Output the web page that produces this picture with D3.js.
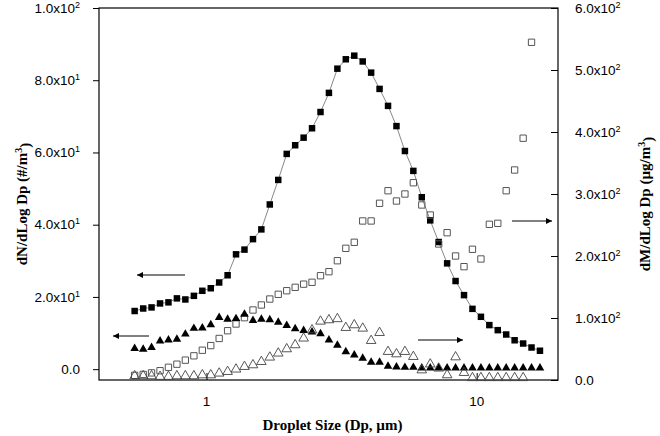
<!DOCTYPE html>
<html lang="en">
<head>
    <meta charset="UTF-8">
    <title>Droplet size distribution</title>
    <style>
        body, html {
            margin: 0;
            padding: 0;
            background: #fff;
        }
        .tick-label {
            font-family: "Liberation Sans", Arial, sans-serif;
            font-size: 13.5px;
            fill: #000;
        }
        .axis-title {
            font-family: "Liberation Serif", "Times New Roman", serif;
            font-weight: bold;
            font-size: 15px;
            fill: #000;
        }
    </style>
    <script src="https://d3js.org/d3.v7.min.js"></script>
</head>
<body>
    <div id="chart"></div>
    <script>
        // APS channel midpoints (um)
        const sizes = [0.542, 0.583, 0.626, 0.673, 0.723, 0.777, 0.835, 0.898, 0.965, 1.037,
            1.114, 1.197, 1.286, 1.382, 1.486, 1.596, 1.715, 1.843, 1.981, 2.129,
            2.288, 2.458, 2.642, 2.839, 3.051, 3.278, 3.523, 3.786, 4.068, 4.371,
            4.698, 5.048, 5.425, 5.829, 6.264, 6.732, 7.234, 7.774, 8.354, 8.977,
            9.647, 10.37, 11.14, 11.97, 12.86, 13.82, 14.86, 15.96, 17.15];

        // dN/dLogDp, left axis
        const numberSquares = [16.1, 16.8, 17.1, 18.2, 18.5, 19.6, 19.3, 20.3, 21.7, 22.4,
            24.0, 26.0, 31.8, 33.1, 36.0, 38.7, 45.6, 52.4, 59.6, 62.0,
            64.1, 66.7, 71.2, 76.5, 83.2, 85.8, 86.8, 85.2, 82.1, 77.6,
            72.9, 67.3, 60.4, 54.9, 47.6, 41.2, 35.2, 29.3, 24.4, 20.5,
            16.7, 14.5, 12.2, 10.8, 9.6, 8.0, 7.1, 6.0, 5.1];
        const numberTriangles = [5.7, 5.5, 6.0, 7.8, 8.1, 8.3, 9.7, 11.3, 11.4, 12.3,
            14.3, 13.8, 14.0, 15.2, 13.5, 13.8, 13.7, 13.0, 12.1, 11.2,
            10.7, 10.3, 9.8, 8.1, 6.6, 4.8, 3.9, 3.0, 1.9, 1.9,
            0.8, 0.6, 0.5, 0.5, 0.3, 0.3, 0.3, 0.3, 0.3, 0.3,
            0.3, 0.3, 0.3, 0.3, 0.3, 0.3, 0.3, 0.3, 0.3];

        // dM/dLogDp, right axis
        const massSquares = [7.5, 9.0, 11.5, 15.0, 20.5, 25.5, 32.0, 39.0, 48.0, 55.5,
            67.0, 79.5, 90.3, 100.5, 112.9, 121.0, 130.6, 138.2, 144.0, 149.5,
            154.6, 157.6, 168.2, 174.7, 192.4, 212.4, 222.1, 256.5, 256.5, 285.0,
            305.3, 288.7, 300.0, 318.2, 282.3, 266.1, 219.4, 237.6, 200.0, 182.8,
            210.8, 195.2, 251.1, 252.7, 305.3, 338.7, 390.0, 544.7];
        const massTriangles = [6.5, 6.5, 6.5, 5.5, 5.5, 6.5, 6.5, 6.5, 8.0, 8.0,
            10.8, 13.4, 17.3, 21.5, 24.2, 29.5, 36.6, 43.1, 50.0, 56.5,
            67.3, 80.6, 94.6, 96.8, 98.6, 84.4, 88.7, 83.3, 63.4, 76.3,
            45.7, 41.9, 45.7, 37.6, 16.0, 25.5, 18.9, 8.1, 37.0, 11.8,
            3.5, 3.5, 3.5, 3.5, 3.5, 3.5, 3.5];

        const leftMajor = [0, 20, 40, 60, 80, 100];
        const leftMinor = [10, 30, 50, 70, 90];
        const rightMajor = [0, 100, 200, 300, 400, 500, 600];
        const rightMinor = [50, 150, 250, 350, 450, 550];
        const xMajor = [1, 10];
        const xMinor = [0.5, 0.6, 0.7, 0.8, 0.9, 2, 3, 4, 5, 6, 7, 8, 9, 20];

        const width = 660, height = 436;
        const plot = { left: 99, right: 558, top: 8, bottom: 380 };

        const svg = d3.select("#chart").append("svg")
            .attr("width", width)
            .attr("height", height);

        const x = d3.scaleLog().domain([0.4, 20]).range([plot.left, plot.right]);
        const yL = d3.scaleLinear().domain([-3, 100]).range([plot.bottom, plot.top]);
        const yR = d3.scaleLinear().domain([0, 600]).range([plot.bottom, plot.top]);

        // label like 2.0x10^1
        function sciLabel(sel, v) {
            sel.text(null);
            if (v === 0) { sel.text("0.0"); return; }
            const e = Math.floor(Math.log10(v));
            const m = v / Math.pow(10, e);
            sel.append("tspan").text(m.toFixed(1) + "x10");
            sel.append("tspan").attr("dy", "-0.55em").style("font-size", "9px").text(e);
        }

        // frame
        svg.append("rect")
            .attr("x", plot.left).attr("y", plot.top)
            .attr("width", plot.right - plot.left)
            .attr("height", plot.bottom - plot.top)
            .attr("fill", "none").attr("stroke", "#000").attr("stroke-width", 1.2);

        // left axis (ticks outward)
        const gL = svg.append("g").attr("transform", `translate(${plot.left},0)`);
        gL.call(d3.axisLeft(yL).tickValues(leftMinor).tickSize(4).tickFormat(""));
        gL.call(d3.axisLeft(yL).tickValues(leftMajor).tickSize(6).tickFormat(""));
        gL.select(".domain").remove();
        leftMajor.forEach(v => {
            const t = svg.append("text").attr("class", "tick-label")
                .attr("x", plot.left - 19).attr("y", yL(v)).attr("dy", "0.35em")
                .attr("text-anchor", "end");
            sciLabel(t, v);
        });

        // right axis (ticks inward)
        const gR = svg.append("g").attr("transform", `translate(${plot.right},0)`);
        gR.call(d3.axisLeft(yR).tickValues(rightMinor).tickSize(5).tickFormat(""));
        gR.call(d3.axisLeft(yR).tickValues(rightMajor).tickSize(7).tickFormat(""));
        gR.select(".domain").remove();
        rightMajor.forEach(v => {
            const t = svg.append("text").attr("class", "tick-label")
                .attr("x", plot.right + 17).attr("y", yR(v)).attr("dy", "0.35em");
            sciLabel(t, v);
        });

        // bottom axis (ticks inward)
        const gB = svg.append("g").attr("transform", `translate(0,${plot.bottom})`);
        gB.call(d3.axisTop(x).tickValues(xMinor).tickSize(4).tickFormat(""));
        gB.call(d3.axisTop(x).tickValues(xMajor).tickSize(7).tickFormat(""));
        gB.select(".domain").remove();
        xMajor.forEach(v => {
            svg.append("text").attr("class", "tick-label")
                .attr("x", x(v)).attr("y", plot.bottom + 26)
                .attr("text-anchor", "middle").text(v);
        });
        svg.selectAll(".tick line").attr("stroke", "#000");

        // axis titles
        svg.append("text").attr("class", "axis-title")
            .attr("x", (plot.left + plot.right) / 2 + 4).attr("y", 430)
            .attr("text-anchor", "middle")
            .text("Droplet Size (Dp, \u00b5m)");

        const tl = svg.append("text").attr("class", "axis-title")
            .attr("transform", `translate(27,${(plot.top + plot.bottom) / 2 + 10}) rotate(-90)`)
            .attr("text-anchor", "middle");
        tl.append("tspan").text("dN/dLog Dp (#/m");
        tl.append("tspan").attr("dy", "-0.5em").style("font-size", "10px").text("3");
        tl.append("tspan").attr("dy", "0.5em").text(")");

        const tr = svg.append("text").attr("class", "axis-title")
            .attr("transform", `translate(650,${(plot.top + plot.bottom) / 2 + 10}) rotate(-90)`)
            .attr("text-anchor", "middle");
        tr.append("tspan").text("dM/dLog Dp (\u00b5g/m");
        tr.append("tspan").attr("dy", "-0.5em").style("font-size", "10px").text("3");
        tr.append("tspan").attr("dy", "0.5em").text(")");

        // series
        const sq = d3.symbol(d3.symbolSquare, 42);
        const tri = d3.symbol(d3.symbolTriangle, 32);
        const triOpen = d3.symbol(d3.symbolTriangle, 40);
        const sqOpen = d3.symbol(d3.symbolSquare, 40);

        const line = d3.line()
            .x((d, i) => x(sizes[i]))
            .y(d => yL(d));
        svg.append("path")
            .attr("d", line(numberSquares))
            .attr("fill", "none").attr("stroke", "#555").attr("stroke-width", 0.7);

        svg.append("g").selectAll("path").data(numberSquares).join("path")
            .attr("transform", (d, i) => `translate(${x(sizes[i])},${yL(d)})`)
            .attr("d", sq).attr("fill", "#000");

        svg.append("g").selectAll("path").data(massSquares).join("path")
            .attr("transform", (d, i) => `translate(${x(sizes[i])},${yR(d)})`)
            .attr("d", sqOpen).attr("fill", "none").attr("stroke", "#555").attr("stroke-width", 1);

        svg.append("g").selectAll("path").data(numberTriangles).join("path")
            .attr("transform", (d, i) => `translate(${x(sizes[i])},${yL(d)})`)
            .attr("d", tri).attr("fill", "#000");

        svg.append("g").selectAll("path").data(massTriangles).join("path")
            .attr("transform", (d, i) => `translate(${x(sizes[i])},${yR(d)})`)
            .attr("d", triOpen).attr("fill", "none").attr("stroke", "#444").attr("stroke-width", 0.9);

        // arrows pointing to the axis each series belongs to
        const arrows = [
            { from: [185, 275], to: [137, 275] },
            { from: [149, 336], to: [113, 336] },
            { from: [418, 340], to: [463, 340] },
            { from: [512, 221], to: [552, 221] }
        ];
        svg.append("defs").append("marker")
            .attr("id", "head").attr("viewBox", "0 0 10 10")
            .attr("refX", 10).attr("refY", 5)
            .attr("markerWidth", 9).attr("markerHeight", 6)
            .attr("markerUnits", "userSpaceOnUse")
            .attr("orient", "auto")
            .append("path").attr("d", "M0,0L10,5L0,10Z").attr("fill", "#000");
        arrows.forEach(a => {
            svg.append("line")
                .attr("x1", a.from[0]).attr("y1", a.from[1])
                .attr("x2", a.to[0]).attr("y2", a.to[1])
                .attr("stroke", "#000").attr("stroke-width", 1)
                .attr("marker-end", "url(#head)");
        });
    </script>
</body>
</html>
